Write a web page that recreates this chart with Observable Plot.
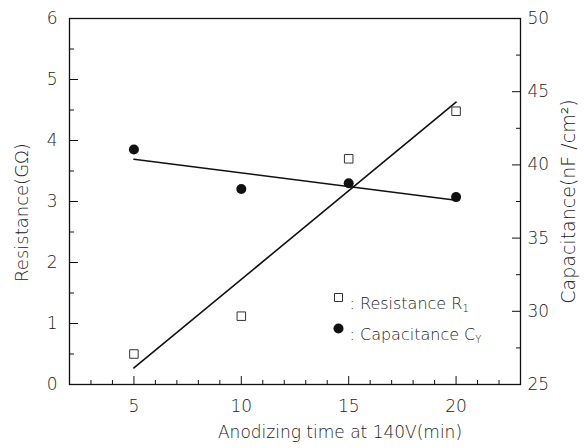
<!DOCTYPE html>
<html><head><meta charset="utf-8">
<script src="https://cdn.jsdelivr.net/npm/d3@7"></script>
<script src="https://cdn.jsdelivr.net/npm/@observablehq/plot@0.6"></script>
<style>body{margin:0;background:#fff}</style>
</head><body><div id="chart"></div>
<script>
const time = [5, 10, 15, 20];
const resistance = [0.5, 1.12, 3.7, 4.48];
const capacitance = [41.05, 38.35, 38.75, 37.8];
const xMajor = [5, 10, 15, 20];
const xMinor = [3, 4, 6, 7, 8, 9, 11, 12, 13, 14, 16, 17, 18, 19, 21, 22];
const rMajor = [0, 1, 2, 3, 4, 5, 6];
const rMinor = [0.5, 1.5, 2.5, 3.5, 4.5, 5.5];
const cMajor = [25, 30, 35, 40, 45, 50];
const cMinor = [27.5, 32.5, 37.5, 42.5, 47.5];
const legendItems = [": Resistance R", ": Capacitance C"];
const legendSubs = ["1", "Y"];

const cToR = c => (c - 25) * 6 / 25;
const resData = time.map((t, i) => ({t, v: resistance[i]}));
const capData = time.map((t, i) => ({t, v: cToR(capacitance[i])}));

const font = "'DejaVu Sans ExtraLight', 'DejaVu Sans', sans-serif";
const ink = "#111";
const txt = "#222";
const W = 200;

const chart = Plot.plot({
  width: 584, height: 448,
  marginLeft: 69, marginRight: 64, marginTop: 18, marginBottom: 64,
  style: {fontFamily: font, fontSize: "17px", fontWeight: W, color: ink, background: "#fff"},
  x: {domain: [2, 23]},
  y: {domain: [0, 6]},
  marks: [
    Plot.axisX(xMinor, {tickSize: -4, fill: "none", label: null, strokeWidth: 1}),
    Plot.axisX(xMajor, {tickSize: -8, fill: "none", label: null, strokeWidth: 1}),
    Plot.axisX(xMajor, {tickSize: 0, tickPadding: 15, label: null, fill: txt, fontWeight: W}),
    Plot.axisY(rMinor, {anchor: "left", tickSize: -5, fill: "none", label: null}),
    Plot.axisY(rMajor, {anchor: "left", tickSize: -9, fill: "none", label: null}),
    Plot.axisY(rMajor, {anchor: "left", tickSize: 0, tickPadding: 12, label: null, fill: txt, fontWeight: W,
      tickFormat: d => String(d)}),
    Plot.axisY(cMinor.map(cToR), {anchor: "right", tickSize: -5, fill: "none", label: null}),
    Plot.axisY(cMajor.map(cToR), {anchor: "right", tickSize: -9, fill: "none", label: null}),
    Plot.axisY(cMajor.map(cToR), {anchor: "right", tickSize: 0, tickPadding: 7, label: null, fill: txt, fontWeight: W,
      tickFormat: r => String(Math.round(r * 25 / 6 + 25))}),
    Plot.frame({stroke: ink, strokeWidth: 1.3}),
    Plot.linearRegressionY(resData, {x: "t", y: "v", ci: 0, stroke: ink, strokeWidth: 1.6}),
    Plot.linearRegressionY(capData, {x: "t", y: "v", ci: 0, stroke: ink, strokeWidth: 1.6}),
    Plot.dot(resData, {x: "t", y: "v", symbol: "square", r: 4.8, stroke: "#333", strokeWidth: 1, fill: "white"}),
    Plot.dot(capData, {x: "t", y: "v", symbol: "circle", r: 5, fill: ink, stroke: "none"}),
    // legend
    Plot.dot([legendItems[0]], {frameAnchor: "top-left", dx: 269, dy: 279, symbol: "square", r: 4.5, stroke: "#333", strokeWidth: 1, fill: "white"}),
    Plot.dot([legendItems[1]], {frameAnchor: "top-left", dx: 269, dy: 310, symbol: "circle", r: 5, fill: ink}),
    Plot.text([legendItems[0]], {text: d => d, frameAnchor: "top-left", dx: 280, dy: 279, textAnchor: "start", fill: txt, fontSize: 16, fontWeight: W, letterSpacing: 0.7, className: "leg"}),
    Plot.text([legendItems[1]], {text: d => d, frameAnchor: "top-left", dx: 280, dy: 310, textAnchor: "start", fill: txt, fontSize: 16, fontWeight: W, letterSpacing: 0.7, className: "leg"}),
    // axis titles
    Plot.text(["Anodizing time at 140V(min)"], {text: d => d, frameAnchor: "bottom", textAnchor: "middle", dx: 45, dy: 53, fill: txt, fontSize: 17, fontWeight: W, letterSpacing: 0.5}),
    Plot.text(["Resistance(G\u03A9)"], {text: d => d, frameAnchor: "left", textAnchor: "middle", rotate: -90, dx: -47, dy: 11, fill: txt, fontSize: 18, fontWeight: W, letterSpacing: 0.9}),
    Plot.text(["Capacitance(nF /cm\u00B2)"], {text: d => d, frameAnchor: "right", textAnchor: "middle", rotate: -90, dx: 48, dy: 0, fill: txt, fontSize: 19, fontWeight: W, letterSpacing: 2.6})
  ]
});
document.getElementById("chart").appendChild(chart);
// add subscripts to legend labels
chart.querySelectorAll("text").forEach(el => {
  const i = legendItems.indexOf(el.textContent);
  if (i >= 0) {
    const ts = document.createElementNS("http://www.w3.org/2000/svg", "tspan");
    ts.setAttribute("font-size", "10");
    ts.setAttribute("dy", "3");
    ts.textContent = legendSubs[i];
    el.appendChild(ts);
  }
});
</script>
</body></html>
